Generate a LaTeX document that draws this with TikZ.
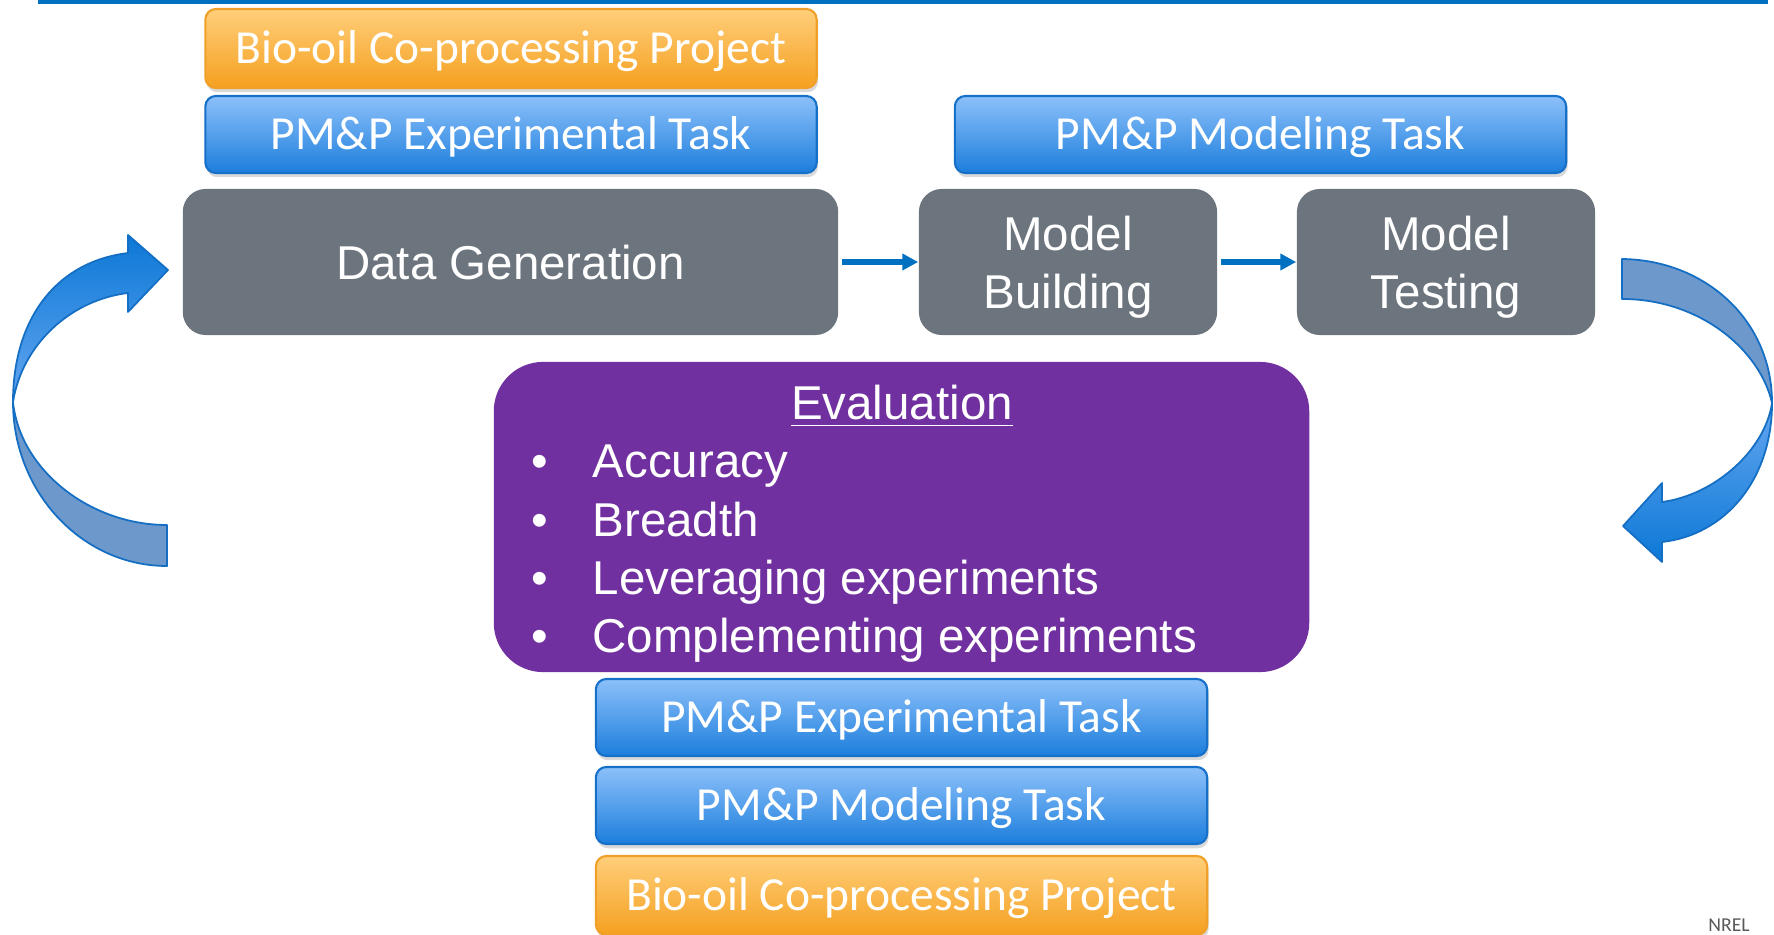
\documentclass[tikz,border=0pt]{standalone}
\usepackage{fontspec}
\setmainfont{Liberation Sans}
\newfontfamily\calibri{Carlito}
\usetikzlibrary{arrows.meta,shadows}

\newcommand\bodysize{\fontsize{13.5}{16.5}\selectfont}

\definecolor{lineblue}{RGB}{0,112,192}
\definecolor{greyfill}{RGB}{108,116,126}
\definecolor{evalpurple}{RGB}{112,48,160}
\definecolor{tasktop}{RGB}{140,192,250}
\definecolor{taskbot}{RGB}{28,126,220}
\definecolor{taskline}{RGB}{22,112,200}
\definecolor{projtop}{RGB}{255,206,122}
\definecolor{projbot}{RGB}{245,160,32}
\definecolor{projline}{RGB}{240,160,40}
\definecolor{curvetop}{RGB}{12,120,214}
\definecolor{curvebot}{RGB}{100,166,240}
\definecolor{curveback}{RGB}{108,152,203}
\definecolor{curveline}{RGB}{20,110,195}
\definecolor{nrelgrey}{RGB}{89,89,89}

\tikzset{
	greybox/.style={rounded corners=6.5pt, fill=greyfill, text=white, inner sep=0pt,
		minimum height=1.46cm, align=center, font=\bodysize, text height=9.7pt, text depth=0pt},
	twoline/.style={text height=26.2pt},
	taskbox/.style={rounded corners=3pt, draw=taskline, line width=0.6pt,
		top color=tasktop, bottom color=taskbot, text=white, inner sep=0pt,
		minimum width=6.11cm, minimum height=0.77cm, font=\calibri\bodysize,
		text height=8.7pt, text depth=0pt,
		drop shadow={shadow xshift=0.4pt, shadow yshift=-1.2pt, opacity=0.3}},
	projbox/.style={taskbox, draw=projline, top color=projtop, bottom color=projbot},
	flow/.style={draw=lineblue, line width=1.5pt, shorten <=1pt,
		-{Triangle[length=4.5pt, width=4.5pt]}},
	bendline/.style={draw=curveline, line width=0.5pt, line join=round},
	itemtext/.style={text=white, font=\bodysize, anchor=base west, inner sep=0pt},
}

\begin{document}
\begin{tikzpicture}[x=0.01cm, y=-0.01cm]
	\useasboundingbox (0,0) rectangle (1774,934);
	\draw[lineblue, line width=1.15pt] (38,2) -- (1768,2);

	% Task and project bars above the flow
	\node[projbox, minimum height=0.79cm] (projtop) at (511, 48.5) {Bio-oil Co-processing Project};
	\node[taskbox] (exptop) at (511, 134.5) {PM\&P Experimental Task};
	\node[taskbox] (modtop) at (1260.5, 134.5) {PM\&P Modeling Task};

	% The three steps
	\node[greybox, minimum width=6.55cm] (datagen) at (510.5, 262) {Data Generation};
	\node[greybox, twoline, minimum width=2.98cm] (mbuild) at (1068, 262) {Model\\Building};
	\node[greybox, twoline, minimum width=2.98cm] (mtest) at (1446, 262) {Model\\Testing};

	\draw[flow] (datagen) -- (mbuild);
	\draw[flow] (mbuild) -- (mtest);

	% Evaluation box
	\node[rounded corners=14pt, fill=evalpurple, minimum width=8.15cm, minimum height=3.10cm] (evalbox) at (901.5, 517) {};
	\node[text=white, font=\bodysize, anchor=base, inner sep=0pt] (evtitle) at (902, 420) {\underline{Evaluation}};
	\foreach \y/\txt [count=\i] in {478/Accuracy, 536/Breadth, 594/Leveraging experiments, 652/Complementing experiments} {
		\node[text=white, font=\bodysize, anchor=base, inner sep=0pt] (dot\i) at (540, \y) {\textbullet};
		\node[itemtext] (item\i) at (592, \y) {\txt};
	}

	% Task and project bars below
	\node[taskbox] (expbot) at (901.5, 717.5) {PM\&P Experimental Task};
	\node[taskbox] (modbot) at (901.5, 805.5) {PM\&P Modeling Task};
	\node[projbox, minimum height=0.79cm] (projbot) at (901.5, 895.5) {Bio-oil Co-processing Project};

	% Curved arrow on the left, back then front
	\draw[bendline, fill=curveback] (13,402) .. controls (13,492) and (82,566) .. (167,566)
		-- (167,525) .. controls (90,525) and (20,470) .. cycle;
	\draw[bendline, top color=curvetop, bottom color=curvebot] (13,402) .. controls (13,320) and (55,262) .. (128,253)
		-- (128,235) -- (168,270) -- (128,312) -- (128,293) .. controls (70,300) and (22,345) .. cycle;

	% Curved arrow on the right
	\draw[bendline, fill=curveback] (1622,259) .. controls (1705,260) and (1772,320) .. (1772,403)
		.. controls (1760,350) and (1700,299) .. (1622,299) -- cycle;
	\draw[bendline, top color=curvebot, bottom color=curvetop] (1772,403) .. controls (1772,480) and (1725,535) .. (1662,542)
		-- (1662,562) -- (1623,526) -- (1662,483) -- (1662,502) .. controls (1715,495) and (1765,450) .. cycle;

	\node[text=nrelgrey, font=\calibri\fontsize{5.6}{6.5}\selectfont, anchor=base, inner sep=0pt] (nrel) at (1729, 931) {NREL};
\end{tikzpicture}
\end{document}
